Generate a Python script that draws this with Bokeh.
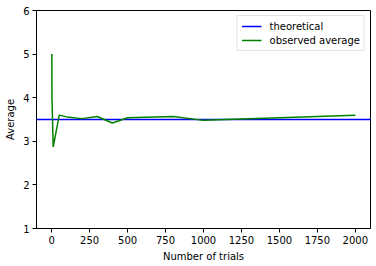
from bokeh.plotting import figure
from bokeh.models import FixedTicker, Range1d, Legend, LegendItem
from bokeh.embed import file_html
from bokeh.resources import INLINE

trials = [1, 2, 10, 50, 100, 200, 300, 400, 500, 800, 1000, 2000]
observed = [5.0, 4.0, 2.87, 3.6, 3.56, 3.52, 3.57, 3.42, 3.54, 3.57, 3.48, 3.6]
theoretical = 3.5
x_ticks = [0, 250, 500, 750, 1000, 1250, 1500, 1750, 2000]
y_ticks = [1, 2, 3, 4, 5, 6]

FONT = "DejaVu Sans"

p = figure(width=376, height=266, output_backend="svg", toolbar_location=None,
           x_range=Range1d(-100, 2100), y_range=Range1d(1, 6),
           min_border_left=36, min_border_right=6, min_border_top=10, min_border_bottom=38)
p.background_fill_color = "white"
p.border_fill_color = "white"
p.outline_line_color = "black"
p.outline_line_width = 1
p.xgrid.visible = False
p.ygrid.visible = False

r1 = p.line([-100, 2100], [theoretical, theoretical], line_color="blue", line_width=1.5)
r2 = p.line(trials, observed, line_color="green", line_width=1.5)

for ax, ticks in ((p.xaxis, x_ticks), (p.yaxis, y_ticks)):
    ax.ticker = FixedTicker(ticks=ticks)
    ax.minor_tick_line_color = None
    ax.major_tick_out = 4
    ax.major_tick_in = 0
    ax.axis_line_color = "black"
    ax.major_tick_line_color = "black"
    ax.major_label_text_font = FONT
    ax.major_label_text_font_size = "10px"
    ax.major_label_text_color = "black"
    ax.axis_label_text_font = FONT
    ax.axis_label_text_font_size = "10px"
    ax.axis_label_text_font_style = "normal"
    ax.axis_label_text_color = "black"

p.xaxis.axis_label = "Number of trials"
p.yaxis.axis_label = "Average"
p.xaxis.axis_label_standoff = 4
p.yaxis.axis_label_standoff = 4
p.yaxis.major_label_standoff = 3
p.xaxis.major_label_standoff = 3

legend = Legend(items=[LegendItem(label="theoretical", renderers=[r1]),
                       LegendItem(label="observed average", renderers=[r2])],
                location="top_right")
legend.label_text_font = FONT
legend.label_text_font_size = "10px"
legend.label_text_color = "black"
legend.border_line_color = "#cccccc"
legend.border_line_width = 1
legend.glyph_width = 20
legend.glyph_height = 12
legend.label_height = 12
legend.spacing = 2
legend.padding = 4
legend.margin = 5
legend.label_standoff = 8
p.add_layout(legend)

open("out.html", "w").write(file_html(p, INLINE))
